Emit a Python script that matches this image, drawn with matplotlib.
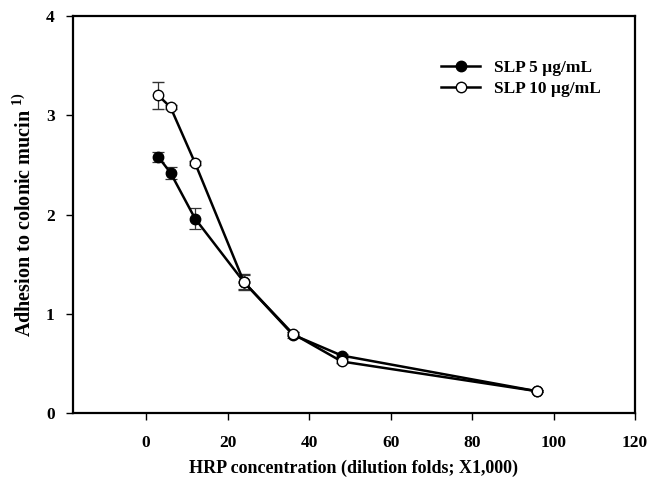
import numpy as np
import matplotlib.pyplot as plt

plt.rcParams['font.family'] = ['Liberation Serif', 'DejaVu Serif']
plt.rcParams['font.weight'] = 'bold'
plt.rcParams['mathtext.fontset'] = 'custom'
plt.rcParams['mathtext.rm'] = 'Liberation Serif'
plt.rcParams['mathtext.bf'] = 'Liberation Serif:bold'

dilution = [3, 6, 12, 24, 36, 48, 96]
slp5 = [2.58, 2.42, 1.96, 1.32, 0.79, 0.58, 0.22]
slp5_err = [0.05, 0.06, 0.11, 0.07, 0.03, 0.02, 0.01]
slp10 = [3.20, 3.08, 2.52, 1.32, 0.80, 0.52, 0.22]
slp10_err = [0.14, 0.02, 0.02, 0.08, 0.02, 0.02, 0.01]

fig = plt.figure(figsize=(6.5, 4.86), dpi=100)
ax = fig.add_axes([0.112, 0.150, 0.865, 0.817])

e1 = ax.errorbar(dilution, slp5, yerr=slp5_err, color='k', lw=1.8, marker='o',
                 ms=7.5, mfc='k', mec='k', ecolor='#333333', elinewidth=0.9,
                 capsize=4, capthick=0.9, zorder=3)
e2 = ax.errorbar(dilution, slp10, yerr=slp10_err, color='k', lw=1.8, marker='o',
                 ms=7.5, mfc='white', mec='k', mew=1.0, ecolor='#333333',
                 elinewidth=0.9, capsize=4, capthick=0.9, zorder=4)

ax.set_xlim(-18, 120)
ax.set_ylim(0, 4)
ax.set_xticks(np.arange(0, 121, 20))
ax.set_yticks(np.arange(0, 5, 1))
ax.tick_params(direction='out', length=5, width=1, labelsize=12.5,
               top=False, right=False)
ax.tick_params(axis='x', pad=11)
ax.tick_params(axis='y', pad=8)
for s in ax.spines.values():
    s.set_linewidth(1.6)

ax.set_xlabel('HRP concentration (dilution folds; X1,000)', fontsize=13,
              fontweight='bold', labelpad=6)
ax.set_ylabel('Adhesion to colonic mucin $^{\\mathregular{1)}}$', fontsize=14.5,
              fontweight='bold', labelpad=7)

ax.legend([e1[0], e2[0]], ['SLP 5 \u00b5g/mL', 'SLP 10 \u00b5g/mL'],
          loc='upper right', bbox_to_anchor=(0.966, 0.93), frameon=False,
          fontsize=12.5, handlelength=2.2, labelspacing=0.3)

fig.savefig('out.png', dpi=100)
